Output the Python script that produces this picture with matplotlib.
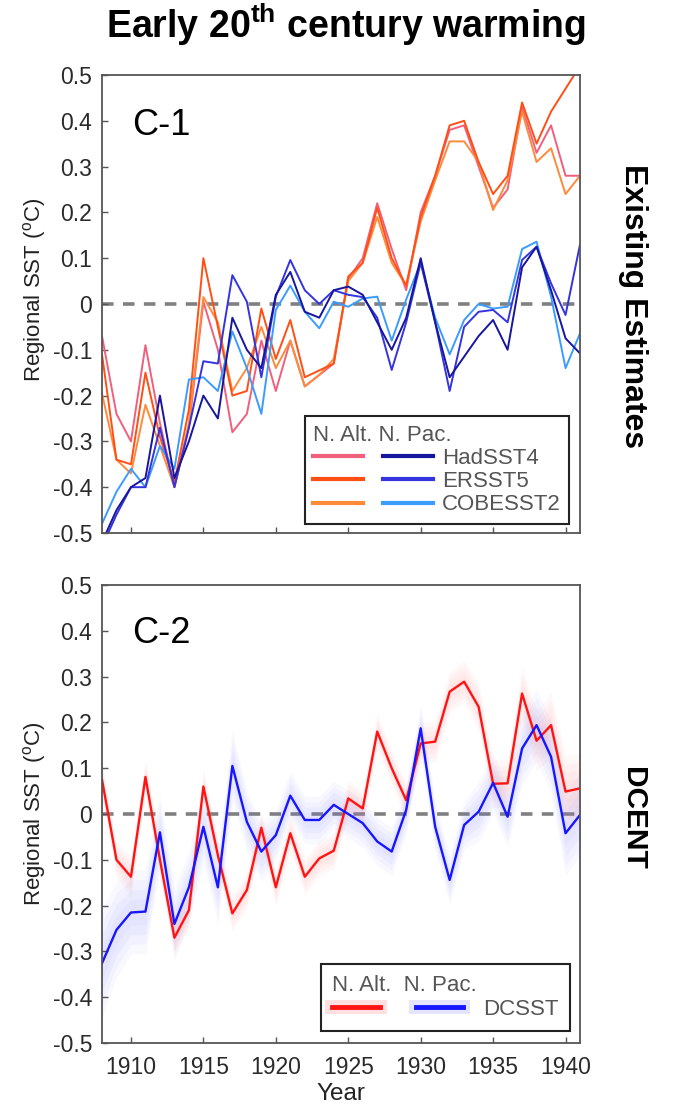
"""Early 20th century warming: regional SST in N. Atlantic / N. Pacific.

    python plot.py  ->  out.png
"""
import matplotlib
matplotlib.use("Agg")
import matplotlib.pyplot as plt  # noqa: E402
import matplotlib.patheffects as pe  # noqa: E402
from matplotlib.legend_handler import HandlerTuple  # noqa: E402
from matplotlib.lines import Line2D  # noqa: E402
import numpy as np  # noqa: E402

plt.rcParams["font.family"] = ["Liberation Sans", "DejaVu Sans"]
plt.rcParams["mathtext.fontset"] = "custom"
plt.rcParams["mathtext.rm"] = "Liberation Sans"
plt.rcParams["mathtext.it"] = "Liberation Sans:italic"
plt.rcParams["mathtext.bf"] = "Liberation Sans:bold"

years = list(range(1908, 1942))

# C-1: existing estimates
hadsst4_atl = [-0.07, -0.24, -0.30, -0.09, -0.26, -0.40, -0.27, 0.005, -0.10, -0.28,
               -0.24, -0.08, -0.19, -0.08, -0.18, -0.155, -0.13, 0.055, 0.10, 0.22,
               0.12, 0.03, 0.20, 0.28, 0.38, 0.39, 0.30, 0.21, 0.25, 0.43,
               0.33, 0.39, 0.28, 0.28]
ersst5_atl = [-0.11, -0.34, -0.35, -0.15, -0.29, -0.39, -0.23, 0.10, -0.05, -0.20,
              -0.19, -0.01, -0.12, -0.035, -0.16, -0.145, -0.13, 0.06, 0.09, 0.21,
              0.10, 0.04, 0.19, 0.28, 0.39, 0.40, 0.31, 0.24, 0.28, 0.44,
              0.35, 0.42, 0.47, 0.52]
cobesst2_atl = [-0.195, -0.34, -0.37, -0.22, -0.31, -0.40, -0.26, 0.015, -0.04, -0.19,
                -0.14, -0.05, -0.14, -0.08, -0.18, -0.155, -0.12, 0.05, 0.09, 0.19,
                0.09, 0.04, 0.18, 0.27, 0.355, 0.355, 0.31, 0.205, 0.27, 0.42,
                0.31, 0.34, 0.24, 0.28]
hadsst4_pac = [-0.52, -0.45, -0.40, -0.38, -0.20, -0.38, -0.30, -0.20, -0.25, -0.03,
               -0.10, -0.14, 0.02, 0.07, -0.017, -0.03, 0.03, 0.038, 0.02, -0.04,
               -0.10, -0.03, 0.10, -0.04, -0.16, -0.115, -0.07, -0.035, -0.10, 0.08,
               0.125, 0.03, -0.075, -0.108]
ersst5_pac = [-0.53, -0.46, -0.40, -0.40, -0.27, -0.40, -0.27, -0.125, -0.13, 0.063,
              0.005, -0.16, 0.016, 0.096, 0.03, 0.0, 0.03, 0.02, 0.015, -0.03,
              -0.144, -0.04, 0.09, -0.04, -0.19, -0.05, -0.017, -0.013, -0.04, 0.096,
              0.125, 0.045, -0.024, 0.13]
cobesst2_pac = [-0.48, -0.41, -0.36, -0.40, -0.31, -0.36, -0.165, -0.16, -0.19, -0.06,
                -0.14, -0.24, -0.013, 0.04, -0.017, -0.053, 0.005, -0.006, 0.012, 0.016,
                -0.08, 0.01, 0.09, -0.03, -0.11, -0.035, 0.0, -0.01, -0.006, 0.12,
                0.136, 0.016, -0.14, -0.064]

# C-2: DCENT (DCSST) with uncertainty half-widths
dcsst_atl = [0.075, -0.10, -0.137, 0.081, -0.10, -0.27, -0.21, 0.06, -0.09, -0.217,
             -0.166, -0.03, -0.16, -0.042, -0.137, -0.097, -0.08, 0.034, 0.012, 0.18,
             0.10, 0.03, 0.154, 0.158, 0.267, 0.289, 0.234, 0.066, 0.067, 0.263,
             0.16, 0.194, 0.049, 0.056]
dcsst_pac = [-0.326, -0.253, -0.215, -0.213, -0.04, -0.24, -0.16, -0.028, -0.16, 0.105,
             -0.017, -0.082, -0.046, 0.04, -0.013, -0.013, 0.02, 0.0, -0.02, -0.06,
             -0.082, 0.009, 0.187, -0.028, -0.144, -0.024, 0.005, 0.068, -0.006, 0.143,
             0.194, 0.125, -0.042, -0.002]
dcsst_atl_unc = [0.03, 0.03, 0.035, 0.03, 0.03, 0.03, 0.03, 0.03, 0.03, 0.03,
                 0.03, 0.03, 0.03, 0.03, 0.03, 0.03, 0.03, 0.03, 0.03, 0.03,
                 0.03, 0.03, 0.035, 0.035, 0.035, 0.035, 0.04, 0.04, 0.04, 0.045,
                 0.05, 0.055, 0.06, 0.06]
dcsst_pac_unc = [0.09, 0.08, 0.07, 0.07, 0.06, 0.06, 0.06, 0.06, 0.06, 0.06,
                 0.05, 0.05, 0.04, 0.04, 0.04, 0.04, 0.04, 0.04, 0.04, 0.04,
                 0.04, 0.04, 0.04, 0.04, 0.04, 0.04, 0.05, 0.05, 0.05, 0.06,
                 0.06, 0.06, 0.07, 0.07]

yticks = [0.5, 0.4, 0.3, 0.2, 0.1, 0.0, -0.1, -0.2, -0.3, -0.4, -0.5]
ytick_labels = ["0.5", "0.4", "0.3", "0.2", "0.1", "0", "-0.1", "-0.2", "-0.3", "-0.4", "-0.5"]
xticks = [1910, 1915, 1920, 1925, 1930, 1935, 1940]

C_PINK, C_RED_OR, C_ORANGE = "#f0607c", "#ff4f14", "#ff8a3a"
C_NAVY, C_BLUE, C_SKY = "#16169e", "#3434e0", "#3b9cff"
C_DRED, C_DBLUE = "#ff1414", "#1616ff"

fig = plt.figure(figsize=(6.75, 11.09), dpi=100)
ax1 = fig.add_axes([0.1511, 0.5194, 0.7082, 0.4130])
ax2 = fig.add_axes([0.1511, 0.0595, 0.7082, 0.4130])


def style(ax, label_y):
    ax.set_xlim(1908, 1941)
    ax.set_ylim(-0.5, 0.5)
    ax.set_yticks(yticks, ytick_labels)
    ax.set_xticks(xticks)
    ax.tick_params(direction="in", length=4, width=1, colors="#555",
                   labelcolor="#2a2a2a", labelsize=16.5, pad=7)
    for s in ax.spines.values():
        s.set_color("#555"); s.set_linewidth(1.3)
    ax.axhline(0, color="#808080", lw=2.6, dashes=(3.2, 2.6), zorder=1)
    ax.set_ylabel("Regional SST ($^{\\mathrm{o}}$C)", fontsize=16, color="#222")
    ax.yaxis.set_label_coords(-0.113, label_y)


def frame(leg):
    leg.get_title().set_color("#555")
    leg.get_frame().set_edgecolor("#222")
    leg.get_frame().set_linewidth(1.5)


# --- C-1
style(ax1, 0.53)
ax1.tick_params(axis="x", labelbottom=False)
lw = 1.4
ax1.plot(years, hadsst4_atl, color=C_PINK, lw=lw)
ax1.plot(years, cobesst2_atl, color=C_ORANGE, lw=lw)
ax1.plot(years, ersst5_atl, color=C_RED_OR, lw=lw)
ax1.plot(years, cobesst2_pac, color=C_SKY, lw=lw)
ax1.plot(years, ersst5_pac, color=C_BLUE, lw=lw)
ax1.plot(years, hadsst4_pac, color=C_NAVY, lw=lw)
ax1.text(0.063, 0.89, "C-1", transform=ax1.transAxes, fontsize=26, va="center")

hl = 3.0
h1 = [(Line2D([], [], color=c1, lw=hl), Line2D([], [], color=c2, lw=hl))
      for c1, c2 in [(C_PINK, C_NAVY), (C_RED_OR, C_BLUE), (C_ORANGE, C_SKY)]]
leg1 = ax1.legend(h1, ["HadSST4", "ERSST5", "COBESST2"],
                  handler_map={tuple: HandlerTuple(ndivide=2, pad=0.9)},
                  title="N. Alt. N. Pac.", alignment="left",
                  loc="lower right", bbox_to_anchor=(0.977, 0.02), borderaxespad=0,
                  fontsize=16, title_fontsize=16, handlelength=5.4,
                  handletextpad=0.4, labelspacing=0.1, borderpad=0.38,
                  fancybox=False, framealpha=1, labelcolor="#555")
frame(leg1)

# --- C-2
style(ax2, 0.5)
ax2.set_xlabel("Year", fontsize=17.5, color="#222")
ax2.xaxis.set_label_coords(0.5, -0.087)
ax2.tick_params(axis="x", pad=9)
atl = np.array(dcsst_atl); pac = np.array(dcsst_pac)
ua = np.array(dcsst_atl_unc); up = np.array(dcsst_pac_unc)
for k in (1.3, 1.0, 0.7, 0.4):
    ax2.fill_between(years, pac - k * up, pac + k * up, color="#7878ff", alpha=0.05, lw=0)
    ax2.fill_between(years, atl - k * ua, atl + k * ua, color="#ff8080", alpha=0.05, lw=0)
ax2.plot(years, dcsst_atl, color=C_DRED, lw=1.7)
ax2.plot(years, dcsst_pac, color=C_DBLUE, lw=1.7)
ax2.text(0.063, 0.895, "C-2", transform=ax2.transAxes, fontsize=26, va="center")

h2 = [(Line2D([], [], color=C_DRED, lw=3.5,
              path_effects=[pe.Stroke(linewidth=10, foreground="#ffe0e0"), pe.Normal()]),
       Line2D([], [], color=C_DBLUE, lw=3.5,
              path_effects=[pe.Stroke(linewidth=10, foreground="#e4e4ff"), pe.Normal()]))]
leg2 = ax2.legend(h2, ["DCSST"],
                  handler_map={tuple: HandlerTuple(ndivide=2, pad=1.6)},
                  title="N. Alt.  N. Pac.", alignment="left",
                  loc="lower right", bbox_to_anchor=(0.979, 0.026), borderaxespad=0,
                  fontsize=16, title_fontsize=16, handlelength=5.9,
                  handletextpad=0.9, labelspacing=0.15, borderpad=0.5,
                  fancybox=False, framealpha=1, labelcolor="#555")
frame(leg2)

# titles and side labels
fig.text(346 / 675, 1 - 25 / 1109, "Early 20$^{\\mathbf{th}}$ century warming",
         ha="center", va="center", fontsize=27, fontweight="bold")
fig.text(633 / 675, 1 - 306 / 1109, "Existing Estimates", rotation=-90,
         ha="center", va="center", fontsize=23, fontweight="bold")
fig.text(633 / 675, 1 - 818 / 1109, "DCENT", rotation=-90,
         ha="center", va="center", fontsize=21.5, fontweight="bold")

fig.savefig("out.png", dpi=100)
